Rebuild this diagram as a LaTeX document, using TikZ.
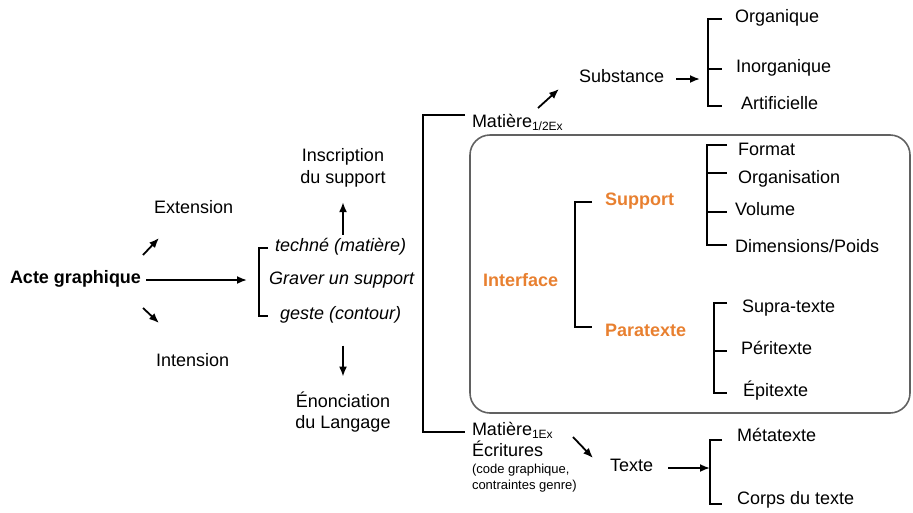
\documentclass[tikz,border=0pt]{standalone}
\usepackage{fontspec}
\setmainfont{Liberation Sans}
\usetikzlibrary{positioning}
\usetikzlibrary{calc}
\usetikzlibrary{arrows.meta}
\definecolor{orng}{RGB}{232,128,48}
\newcommand{\lowsub}[1]{\raisebox{-3pt}{\fontsize{12}{12}\selectfont #1}}
\tikzset{
	x=1pt, y=-1pt,
	every node/.style={inner sep=0pt, outer sep=0pt, font=\fontsize{18}{21.5}\selectfont},
	lbl/.style={anchor=west, text height=12pt, text depth=5pt},
	ital/.style={lbl, font=\fontsize{18}{21.5}\selectfont\itshape},
	org/.style={lbl, font=\fontsize{18}{21.5}\selectfont\bfseries, text=orng},
	ctr/.style={align=center},
	small/.style={anchor=north west, align=left, font=\fontsize{13}{16.5}\selectfont},
	brk/.style={line width=1.8pt},
	arr/.style={line width=1.8pt, -{Latex[length=10pt,width=8pt]}},
	frame/.style={draw=black!62, line width=1.6pt, rounded corners=20pt}
}

\begin{document}
\begin{tikzpicture}
	\useasboundingbox (0,0) rectangle (913,512);
	\draw[frame] (470,135) rectangle (910,413);

	\node[lbl] (acte) at (10,280) {\bfseries Acte graphique};
	\node[lbl] (ext) at (154,210) {Extension};
	\node[lbl] (int) at (156,363) {Intension};

	\node[ital] (techne) at (275,248) {techné (matière)};
	\node[ital] (graver) at (269,281) {Graver un support};
	\node[ital] (geste) at (280,316) {geste (contour)};
	\node[ctr] (inscr) at (343,168) {Inscription\\du support};
	\node[ctr] (enonc) at (343,412) {Énonciation\\du Langage};

	\node[lbl] (matH) at (472,124) {Matière\lowsub{1/2Ex}};
	\node[lbl] (subst) at (579,79) {Substance};
	\node[lbl] (orga) at (735,19) {Organique};
	\node[lbl] (inorg) at (736,69) {Inorganique};
	\node[lbl] (artif) at (741,106) {Artificielle};

	\node[org] (intf) at (483,283) {Interface};
	\node[org] (supp) at (605,202) {Support};
	\node[org] (para) at (605,333) {Paratexte};
	\node[lbl] (fmt) at (738,152) {Format};
	\node[lbl] (orgn) at (738,180) {Organisation};
	\node[lbl] (vol) at (735,212) {Volume};
	\node[lbl] (dim) at (735,249) {Dimensions/Poids};
	\node[lbl] (supra) at (742,309) {Supra-texte};
	\node[lbl] (peri) at (741,351) {Péritexte};
	\node[lbl] (epi) at (743,393) {Épitexte};

	\node[lbl] (matE) at (472,432) {Matière\lowsub{1Ex}};
	\node[lbl] (ecrit) at (472,453) {Écritures};
	\node[small] (code) at (472,464) {(code graphique,\\contraintes genre)};
	\node[lbl] (texte) at (610,468) {Texte};
	\node[lbl] (meta) at (737,438) {Métatexte};
	\node[lbl] (corps) at (737,501) {Corps du texte};

	\coordinate (gBr) at (259,280);
	\coordinate (bigBr) at (423,280);
	\coordinate (sBr) at (708,79);
	\coordinate (iBr) at (575,282);
	\coordinate (fBr) at (707,195);
	\coordinate (pBr) at (714,350);
	\coordinate (tBr) at (710,468);

	\draw[arr, shorten >=12pt] ([xshift=5pt]acte.east) -- (acte.east -| gBr);
	\draw[arr] ([shift={(2pt,25pt)}]acte.east) -- ++(16,-17);
	\draw[arr] ([shift={(2pt,-28pt)}]acte.east) -- ++(16,15);

	\draw[brk] ([xshift=-7pt]techne.west) -| (gBr) |- ([xshift=-12pt]geste.west);
	\draw[arr, shorten <=5pt, shorten >=15pt] (techne.north -| inscr.south) -- (inscr.south);
	\draw[arr, shorten <=21pt, shorten >=15pt] (geste.south -| enonc.north) -- (enonc.north);

	\draw[brk] ([shift={(-7pt,9pt)}]matH.west) -| (bigBr) |- ([xshift=-7pt]matE.west);
	\draw[arr] ([shift={(66pt,16pt)}]matH.west) -- ++(21,-19);
	\draw[arr] ([shift={(101pt,-5pt)}]matE.west) -- ++(20,21);

	\draw[arr, shorten >=8pt] ([xshift=12pt]subst.east) -- (sBr);
	\draw[brk] ([xshift=-13pt]orga.west) -| (sBr) |- ([xshift=-19pt]artif.west);
	\draw[brk] (inorg.west -| sBr) -- ([xshift=-14pt]inorg.west);

	\draw[brk] ([xshift=-13pt]supp.west) -| (iBr) |- ([shift={(-13pt,6pt)}]para.west);
	\draw[brk] ([shift={(-11pt,7pt)}]fmt.west) -| (fBr) |- ([shift={(-8pt,4pt)}]dim.west);
	\draw[brk] ($(orgn.west -| fBr)+(0,-7)$) -- ([shift={(-11pt,7pt)}]orgn.west);
	\draw[brk] (vol.west -| fBr) -- ([xshift=-8pt]vol.west);
	\draw[brk] ([shift={(-15pt,6pt)}]supra.west) -| (pBr) |- ([xshift=-16pt]epi.west);
	\draw[brk] (peri.west -| pBr) -- ([xshift=-14pt]peri.west);

	\draw[arr] ([xshift=15pt]texte.east) -- (texte.east -| tBr);
	\draw[brk] ([shift={(-15pt,-2pt)}]meta.west) -| (tBr) |- ([shift={(-15pt,-3pt)}]corps.west);
\end{tikzpicture}
\end{document}
